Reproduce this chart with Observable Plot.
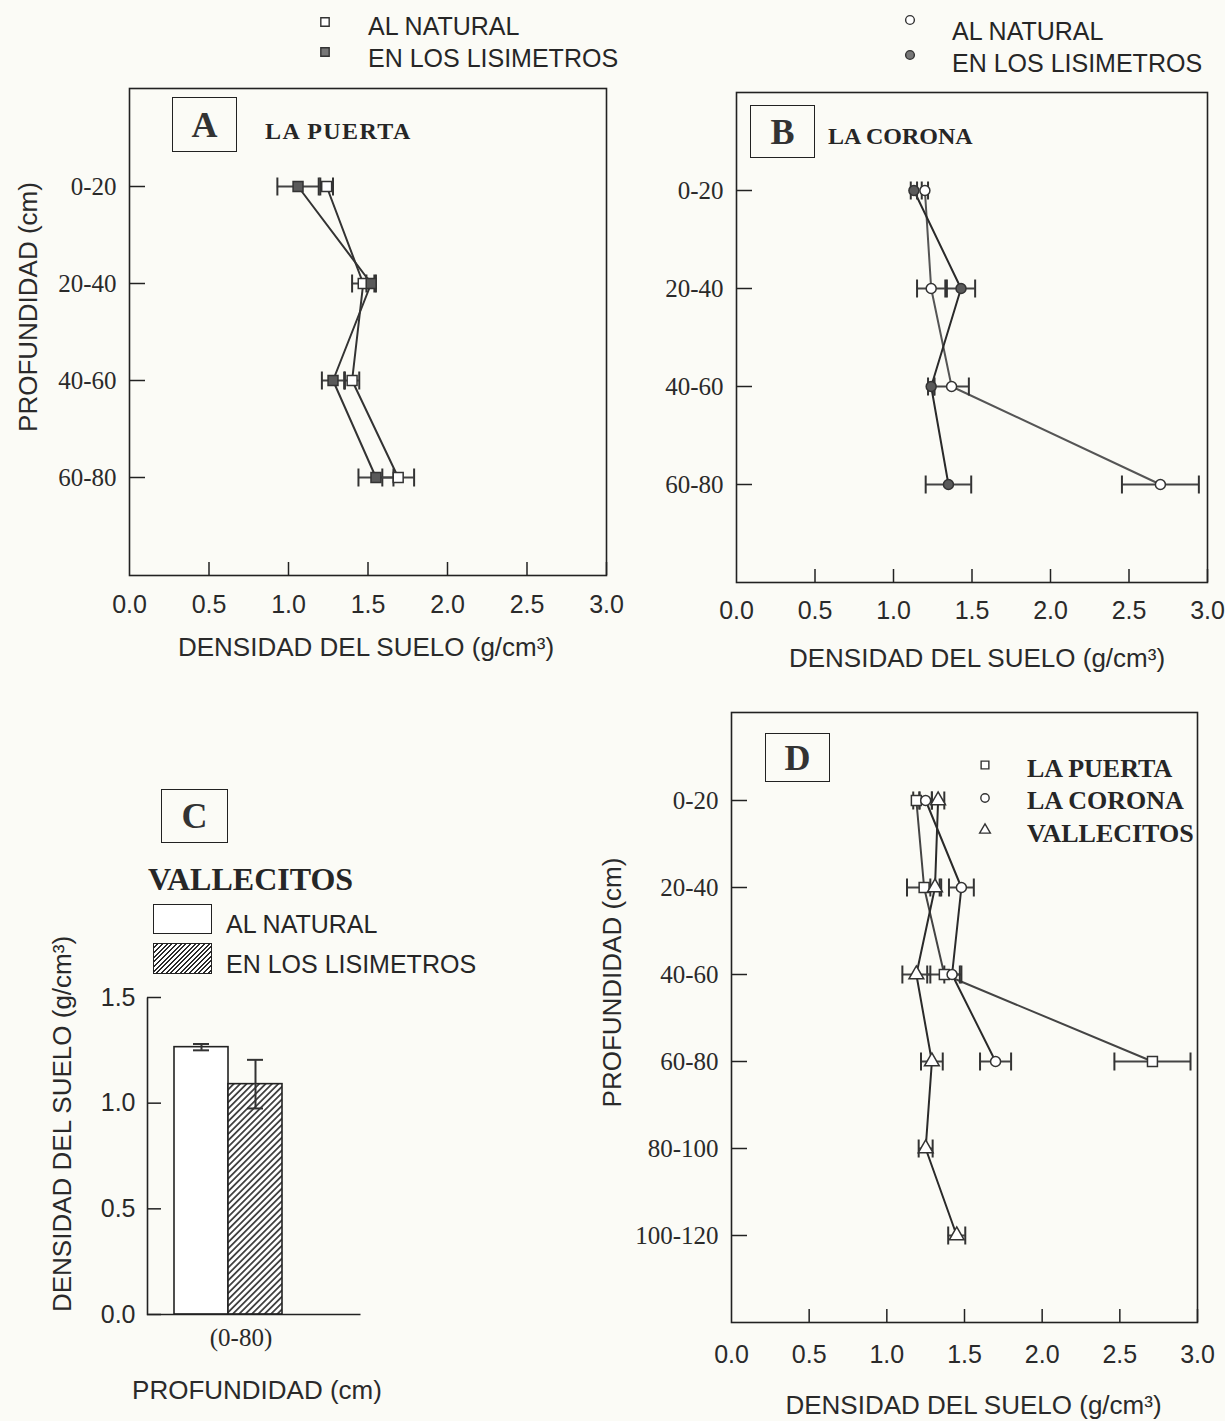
<!DOCTYPE html>
<html><head><meta charset="utf-8">
<script src="https://cdn.jsdelivr.net/npm/d3@7"></script>
<script src="https://cdn.jsdelivr.net/npm/@observablehq/plot@0.6"></script>
<style>
body{margin:0;background:#fbfbf6;}
#root{position:relative;width:1225px;height:1421px;background:#fbfbf6;overflow:hidden;}
.abs{position:absolute;white-space:nowrap;}
.sans{font-family:"Liberation Sans",Arial,sans-serif;color:#262626;}
.serif{font-family:"Liberation Serif","Times New Roman",serif;color:#262626;}
.box{position:absolute;border:1.6px solid #222;box-sizing:border-box;display:flex;align-items:center;justify-content:center;font-family:"Liberation Serif",serif;font-weight:bold;font-size:36px;color:#333;}
.holder{position:absolute;}
.holder svg{display:block;max-width:none;}
</style></head><body><div id="root"></div>
<script>
// ---------- DATA ----------
const depthsAB = ["0-20", "20-40", "40-60", "60-80"];
const depthsD = ["0-20", "20-40", "40-60", "60-80", "80-100", "100-120"];
const xTicks = [0, 0.5, 1.0, 1.5, 2.0, 2.5, 3.0];

// Panel A: LA PUERTA
const puertaNatural = [1.24, 1.47, 1.40, 1.69];
const puertaNaturalErr = [0.04, 0.07, 0.045, 0.10];
const puertaLis = [1.06, 1.52, 1.28, 1.55];
const puertaLisErr = [0.13, 0.03, 0.07, 0.11];

// Panel B: LA CORONA
const coronaNatural = [1.20, 1.24, 1.37, 2.70];
const coronaNaturalErr = [0.02, 0.09, 0.11, 0.245];
const coronaLis = [1.13, 1.43, 1.24, 1.35];
const coronaLisErr = [0.02, 0.09, 0.02, 0.145];

// Panel D (markers as drawn in the figure)
const dSquare = [1.19, 1.24, 1.37, 2.71];
const dSquareErr = [0.02, 0.11, 0.11, 0.245];
const dCircle = [1.25, 1.48, 1.42, 1.70];
const dCircleErr = [0.04, 0.08, 0.05, 0.10];
const dTriangle = [1.33, 1.31, 1.19, 1.29, 1.25, 1.45];
const dTriangleErr = [0.04, 0.03, 0.09, 0.07, 0.045, 0.055];

// Panel C: VALLECITOS
const cSeries = ["AL NATURAL", "EN LOS LISIMETROS"];
const cValues = [1.265, 1.09];
const cErr = [0.015, 0.115];
const cDepth = "(0-80)";
const cTicks = [0, 0.5, 1.0, 1.5];

// ---------- HELPERS ----------
const SANS = "Liberation Sans, Arial, sans-serif";
const SERIF = "Liberation Serif, Times New Roman, serif";
const INK = "#2a2a2a";
const root = document.getElementById("root");

function rows(depths, vals, errs, serie) {
  return vals.map((v, i) => ({depth: depths[i], v, lo: v - errs[i], hi: v + errs[i], serie}));
}
const capSymbol = {draw(ctx, size) { const r = Math.sqrt(size / Math.PI); ctx.moveTo(0, -r); ctx.lineTo(0, r); }};

function place(node, left, top) {
  const d = document.createElement("div");
  d.className = "holder"; d.style.left = left + "px"; d.style.top = top + "px";
  d.appendChild(node); root.appendChild(d); return d;
}
function label(text, left, cy, cls, size, extra = "") {
  const d = document.createElement("div");
  d.className = "abs " + cls;
  d.style.cssText += `left:${left}px;top:${cy}px;font-size:${size}px;line-height:1;transform:translateY(-50%);${extra}`;
  d.textContent = text; root.appendChild(d); return d;
}
function box(text, left, top, w, h) {
  const d = document.createElement("div");
  d.className = "box";
  d.style.cssText += `left:${left}px;top:${top}px;width:${w}px;height:${h}px;`;
  d.textContent = text; root.appendChild(d);
}
function marker(type, cx, cy, fill, size = 80) {
  const s = 24;
  const svg = d3.create("svg").attr("width", s).attr("height", s)
    .style("position", "absolute").style("left", (cx - s / 2) + "px").style("top", (cy - s / 2) + "px");
  const sym = {square: d3.symbolSquare, circle: d3.symbolCircle, triangle: d3.symbolTriangle}[type];
  svg.append("path").attr("d", d3.symbol(sym, size)()).attr("transform", `translate(${s / 2},${s / 2})`)
    .attr("fill", fill).attr("stroke", "#333").attr("stroke-width", 1.4);
  root.appendChild(svg.node());
}

function profile({width, height, mt, mr, mb, ml, depths, series, tickPad = 20, xTitleDx, xTitleDy, yTitle, yTitleDx, yTitleDy}) {
  const innerW = width - ml - mr, innerH = height - mt - mb;
  const marks = [];
  for (const s of series) marks.push(Plot.line(s.rows, {x: "v", y: "depth", stroke: s.line, strokeWidth: 2}));
  for (const s of series) {
    marks.push(Plot.ruleY(s.rows, {y: "depth", x1: "lo", x2: "hi", stroke: "#444", strokeWidth: 2}));
    marks.push(Plot.dot(s.rows, {x: "lo", y: "depth", symbol: capSymbol, r: 9, stroke: "#333", strokeWidth: 2, fill: "none"}));
    marks.push(Plot.dot(s.rows, {x: "hi", y: "depth", symbol: capSymbol, r: 9, stroke: "#333", strokeWidth: 2, fill: "none"}));
  }
  for (const s of series) marks.push(Plot.dot(s.rows, {x: "v", y: "depth", symbol: s.symbol, r: s.r, fill: s.fill, stroke: "#333", strokeWidth: 1.5}));
  marks.push(
    Plot.frame({stroke: "#222", strokeWidth: 1.6}),
    Plot.tickX(xTicks.slice(1), {x: d => d, insetTop: innerH - 13, stroke: "#222", strokeWidth: 1.5}),
    Plot.tickY(depths, {y: d => d, insetRight: innerW - 16, stroke: "#222", strokeWidth: 1.5}),
    Plot.axisX({ticks: xTicks, tickFormat: d3.format(".1f"), tickSize: 0, tickPadding: tickPad, fontSize: 25, fontFamily: SANS, label: null}),
    Plot.axisY({tickSize: 0, tickPadding: 13, fontSize: 25, fontFamily: SERIF, label: null}),
    Plot.text(["DENSIDAD DEL SUELO (g/cm³)"], {text: d => d, frameAnchor: "bottom", textAnchor: "middle", dx: xTitleDx, dy: xTitleDy, fontSize: 26, fontFamily: SANS, fill: INK})
  );
  if (yTitle) marks.push(Plot.text([yTitle], {text: d => d, frameAnchor: "left", textAnchor: "middle", rotate: -90, dx: yTitleDx, dy: yTitleDy, fontSize: 26, fontFamily: SANS, fill: INK}));
  return Plot.plot({
    width, height, marginTop: mt, marginRight: mr, marginBottom: mb, marginLeft: ml,
    x: {domain: [0, 3]},
    y: {type: "point", domain: depths, padding: 1},
    style: {background: "none", color: INK, fontFamily: SANS, overflow: "visible"},
    marks
  });
}

// ---------- PANEL A ----------
const svgA = profile({
  width: 640, height: 700, mt: 88, mr: 34, mb: 125, ml: 129, depths: depthsAB,
  series: [
    {rows: rows(depthsAB, puertaNatural, puertaNaturalErr, "AL NATURAL"), symbol: "square", r: 5.6, fill: "white", line: "#333"},
    {rows: rows(depthsAB, puertaLis, puertaLisErr, "EN LOS LISIMETROS"), symbol: "square", r: 5.6, fill: "#5a5a5a", line: "#333"}
  ],
  xTitleDx: -2, xTitleDy: 80, yTitle: "PROFUNDIDAD (cm)", yTitleDx: -101, yTitleDy: -25
});
place(svgA, 0, 0);

// ---------- PANEL B ----------
const svgB = profile({
  width: 625, height: 700, mt: 92, mr: 18, mb: 118, ml: 136, depths: depthsAB,
  series: [
    {rows: rows(depthsAB, coronaNatural, coronaNaturalErr, "AL NATURAL"), symbol: "circle", r: 5, fill: "white", line: "#555"},
    {rows: rows(depthsAB, coronaLis, coronaLisErr, "EN LOS LISIMETROS"), symbol: "circle", r: 5, fill: "#5a5a5a", line: "#2a2a2a"}
  ],
  tickPad: 19, xTitleDx: 5, xTitleDy: 84
});
place(svgB, 600, 0);

// ---------- PANEL D ----------
const svgD = profile({
  width: 645, height: 731, mt: 22, mr: 28, mb: 99, ml: 151, depths: depthsD,
  series: [
    {rows: rows(depthsD, dSquare, dSquareErr, "LA PUERTA"), symbol: "square", r: 5.6, fill: "white", line: "#444"},
    {rows: rows(depthsD, dCircle, dCircleErr, "LA CORONA"), symbol: "circle", r: 5, fill: "white", line: "#2a2a2a"},
    {rows: rows(depthsD, dTriangle, dTriangleErr, "VALLECITOS"), symbol: "triangle", r: 5.5, fill: "white", line: "#2a2a2a"}
  ],
  tickPad: 23, xTitleDx: 9, xTitleDy: 91, yTitle: "PROFUNDIDAD (cm)", yTitleDx: -119, yTitleDy: -35
});
place(svgD, 580, 690);

// ---------- PANEL C ----------
const cRows = cSeries.map((s, i) => ({serie: s, v: cValues[i], lo: cValues[i] - cErr[i], hi: cValues[i] + cErr[i]}));
const cW = 420, cH = 461, cML = 147, cMR = 60, cMT = 37, cMB = 107;
const cInW = cW - cML - cMR, cInH = cH - cMT - cMB;
const svgC = Plot.plot({
  width: cW, height: cH, marginTop: cMT, marginRight: cMR, marginBottom: cMB, marginLeft: cML,
  x: {type: "band", domain: cSeries, range: [173, 282], padding: 0, axis: null},
  y: {domain: [0, 1.5]},
  style: {background: "none", color: INK, fontFamily: SANS, overflow: "visible"},
  marks: [
    Plot.barY(cRows.filter(d => d.serie === cSeries[0]), {x: "serie", y: "v", fill: "white", stroke: "#222", strokeWidth: 1.6}),
    Plot.barY(cRows.filter(d => d.serie === cSeries[1]), {x: "serie", y: "v", fill: "url(#hatchC)", stroke: "#222", strokeWidth: 1.6}),
    Plot.ruleX(cRows, {x: "serie", y1: "lo", y2: "hi", stroke: "#333", strokeWidth: 2}),
    Plot.tickY(cRows, {x: "serie", y: "lo", insetLeft: 19, insetRight: 19, stroke: "#333", strokeWidth: 2}),
    Plot.tickY(cRows, {x: "serie", y: "hi", insetLeft: 19, insetRight: 19, stroke: "#333", strokeWidth: 2}),
    Plot.frame({stroke: "#222", strokeWidth: 1.6, strokeDasharray: `0 ${cInW + cInH} ${cInW + cInH + 4}`}),
    Plot.tickY(cTicks, {y: d => d, insetRight: cInW - 14, stroke: "#222", strokeWidth: 1.5}),
    Plot.axisY({ticks: cTicks, tickFormat: d3.format(".1f"), tickSize: 0, tickPadding: 12, fontSize: 25, fontFamily: SANS, label: null}),
    Plot.text([cDepth], {text: d => d, frameAnchor: "bottom", textAnchor: "middle", dx: -13, dy: 31, fontSize: 25, fontFamily: SERIF, fill: INK}),
    Plot.text(["PROFUNDIDAD (cm)"], {text: d => d, frameAnchor: "bottom", textAnchor: "middle", dx: 3, dy: 84, fontSize: 26, fontFamily: SANS, fill: INK}),
    Plot.text(["DENSIDAD DEL SUELO (g/cm³)"], {text: d => d, frameAnchor: "left", textAnchor: "middle", rotate: -90, dx: -85, dy: -32, fontSize: 26, fontFamily: SANS, fill: INK})
  ]
});
const defs = d3.select(svgC).insert("defs", ":first-child");
const pat = defs.append("pattern").attr("id", "hatchC").attr("patternUnits", "userSpaceOnUse")
  .attr("width", 4.5).attr("height", 4.5).attr("patternTransform", "rotate(45)");
pat.append("rect").attr("width", 4.5).attr("height", 4.5).attr("fill", "white");
pat.append("line").attr("x1", 0.9).attr("y1", 0).attr("x2", 0.9).attr("y2", 4.5).attr("stroke", "#2a2a2a").attr("stroke-width", 1.6);
place(svgC, 0, 960);

// ---------- LEGENDS & PANEL LABELS ----------
// A
marker("square", 325, 22, "white", 70);
marker("square", 325, 52, "#777", 70);
label("AL NATURAL", 368, 26, "sans", 25);
label("EN LOS LISIMETROS", 368, 58, "sans", 25);
box("A", 172, 97, 65, 55);
label("LA PUERTA", 265, 131, "serif", 24, "font-weight:bold;letter-spacing:1.4px;");
// B
marker("circle", 910, 20, "white", 60);
marker("circle", 910, 55, "#777", 60);
label("AL NATURAL", 952, 31, "sans", 25);
label("EN LOS LISIMETROS", 952, 63, "sans", 25);
box("B", 750, 105, 65, 53);
label("LA CORONA", 828, 136, "serif", 24, "font-weight:bold;");
// C
box("C", 161, 789, 67, 54);
label("VALLECITOS", 148, 879, "serif", 32, "font-weight:bold;");
const sw1 = document.createElement("div");
sw1.style.cssText = "position:absolute;left:153px;top:904px;width:59px;height:30px;border:1.6px solid #222;box-sizing:border-box;background:white;";
root.appendChild(sw1);
const sw2 = document.createElement("div");
sw2.style.cssText = "position:absolute;left:153px;top:943px;width:59px;height:31px;border:1.6px solid #222;box-sizing:border-box;background:repeating-linear-gradient(135deg,#fff 0,#fff 2px,#2a2a2a 2px,#2a2a2a 3.3px);";
root.appendChild(sw2);
label("AL NATURAL", 226, 924, "sans", 25);
label("EN LOS LISIMETROS", 226, 964, "sans", 25);
// D
box("D", 765, 733, 65, 49);
marker("square", 985, 765, "white", 60);
marker("circle", 985, 798, "white", 55);
marker("triangle", 985, 830, "white", 50);
label("LA PUERTA", 1027, 769, "serif", 26, "font-weight:bold;");
label("LA CORONA", 1027, 801, "serif", 26, "font-weight:bold;");
label("VALLECITOS", 1027, 834, "serif", 26, "font-weight:bold;");
</script></body></html>
